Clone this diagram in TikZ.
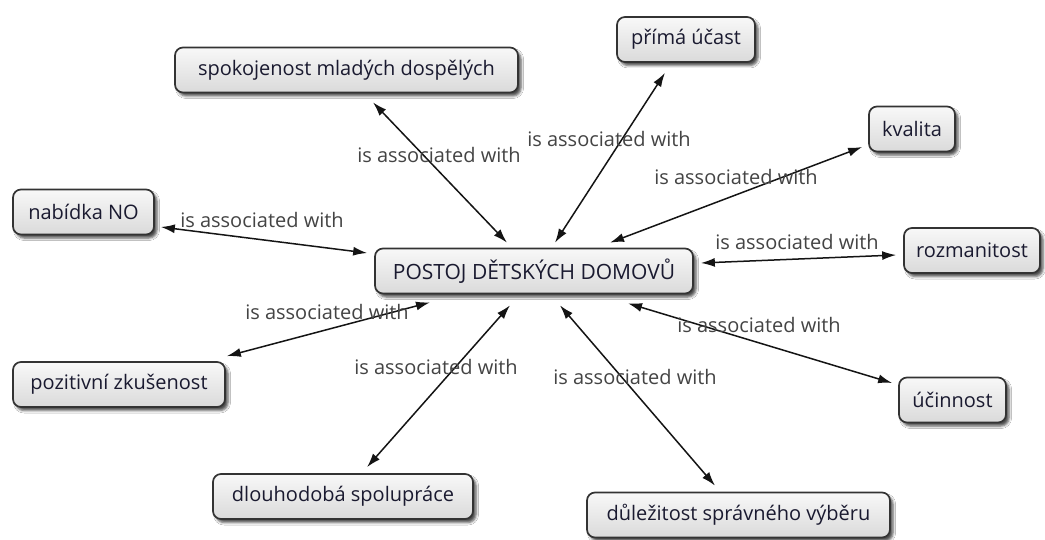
\documentclass[tikz,border=0pt]{standalone}
\usepackage{fontspec}
\setmainfont{Open Sans}
\usetikzlibrary{arrows.meta,shadows.blur,calc}
\definecolor{nodeborder}{HTML}{333333}
\definecolor{textcol}{HTML}{1A1A30}
\definecolor{labelcol}{HTML}{444444}
\definecolor{topfill}{HTML}{F8F8F8}
\definecolor{botfill}{HTML}{DADADA}
\begin{document}
\begin{tikzpicture}[x=1pt,y=-1pt,
  font=\fontsize{20}{24}\selectfont,
  concept/.style={draw=nodeborder, line width=1.7pt, rounded corners=8pt,
    top color=topfill, bottom color=botfill,
    blur shadow={shadow xshift=3pt, shadow yshift=-3.5pt, shadow blur radius=2.5pt, shadow opacity=70},
    minimum height=45pt, inner sep=0pt, text=textcol},
  assoc/.style={line width=1.5pt, draw=black!92,
    {Latex[length=14pt,width=9pt]}-{Latex[length=14pt,width=9pt]}},
  lbl/.style={text=labelcol, inner sep=0pt}]
\useasboundingbox[fill=white] (0,0) rectangle (1045,540);

% concepts
\node[concept, minimum width=318pt, font=\fontsize{21}{24}\selectfont] (c) at (534,271) {POSTOJ DĚTSKÝCH DOMOVŮ};
\node[concept, minimum width=343pt] (s)   at (346.5,70)  {spokojenost mladých dospělých};
\node[concept, minimum width=138pt] (p)   at (686,39.5)  {přímá účast};
\node[concept, minimum width=86pt]  (k)   at (912,129)   {kvalita};
\node[concept, minimum width=141pt] (n)   at (83.5,212)  {nabídka NO};
\node[concept, minimum width=136pt] (r)   at (972,250.5) {rozmanitost};
\node[concept, minimum width=212pt] (z)   at (119,384.5) {pozitivní zkušenost};
\node[concept, minimum width=107pt] (u)   at (952.5,400) {účinnost};
\node[concept, minimum width=260pt] (d)   at (343,496.5) {dlouhodobá spolupráce};
\node[concept, minimum width=303pt] (v)   at (738.5,515) {důležitost správného výběru};

% connectors
\draw[assoc] ([shift={(26.5,9)}]s.south)  -- ([shift={(-27,-5)}]c.north);
\draw[assoc] ([shift={(-21,10)}]p.south)  -- ([shift={(21,-5)}]c.north);
\draw[assoc] ([shift={(-6,18)}]k.west)    -- ([shift={(76,-5)}]c.north);
\draw[assoc] ([shift={(6,15)}]n.east)     -- ([shift={(-7,-18)}]c.west);
\draw[assoc] ([shift={(-7,4.5)}]r.west)   -- ([shift={(7,-8)}]c.east);
\draw[assoc] ([shift={(1,-5)}]z.north east) -- ([shift={(-104,8)}]c.south);
\draw[assoc] ([shift={(24,-6)}]d.north)   -- ([shift={(-24,11)}]c.south);
\draw[assoc] ([shift={(-23.5,-6)}]v.north) -- ([shift={(26,11)}]c.south);
\draw[assoc] ([shift={(-6,-17)}]u.west)   -- ([shift={(94,9)}]c.south);

% labels
\node[lbl] (ls) at (439,155) {is associated with};
\node[lbl] (lp) at (609,139) {is associated with};
\node[lbl] (lk) at (736,177) {is associated with};
\node[lbl] (ln) at (262,220) {is associated with};
\node[lbl] (lr) at (797,242) {is associated with};
\node[lbl] (lz) at (327,312) {is associated with};
\node[lbl] (ld) at (436,367) {is associated with};
\node[lbl] (lv) at (635,377) {is associated with};
\node[lbl] (lu) at (759,325) {is associated with};
\end{tikzpicture}
\end{document}
